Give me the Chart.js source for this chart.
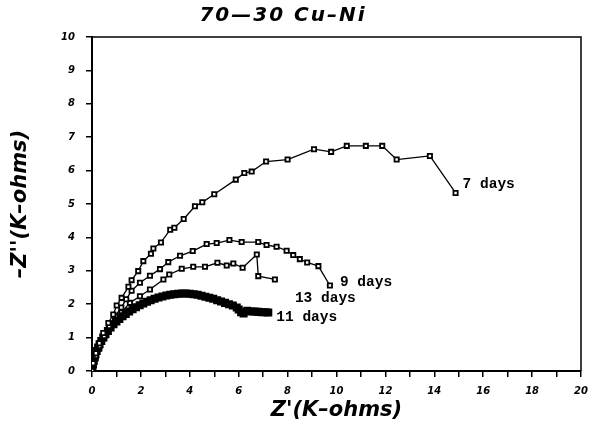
<!DOCTYPE html>
<html>
<head>
<meta charset="utf-8">
<script src="https://cdn.jsdelivr.net/npm/chart.js@4/dist/chart.umd.min.js"></script>
<style>
html,body{margin:0;padding:0;background:#fff;}
#wrap{width:589px;height:430px;}
</style>
</head>
<body>
<div id="wrap"><canvas id="c" width="589" height="430"></canvas></div>
<script>
const titleText = "70—30 Cu–Ni";
const xTitle = "Z'(K–ohms)";
const yTitle = "–Z''(K–ohms)";
const seriesNames = ["7 days", "9 days", "11 days", "13 days"];

const days7 = [[0,0],[0.05,0.23],[0.16,0.53],[0.3,0.83],[0.46,1.14],[0.67,1.44],[0.87,1.69],[1.01,1.96],[1.21,2.19],[1.49,2.52],[1.62,2.72],[1.89,2.99],[2.1,3.29],[2.41,3.51],[2.51,3.67],[2.82,3.85],[3.2,4.23],[3.37,4.29],[3.75,4.55],[4.21,4.93],[4.51,5.05],[5.0,5.29],[5.88,5.73],[6.23,5.93],[6.53,5.97],[7.12,6.27],[8.0,6.33],[9.08,6.64],[9.78,6.56],[10.42,6.74],[11.2,6.74],[11.87,6.74],[12.46,6.33],[13.82,6.44],[14.87,5.33]];

const days9 = [[0,0],[0.05,0.2],[0.15,0.45],[0.3,0.75],[0.5,1.05],[0.7,1.35],[0.95,1.65],[1.2,1.9],[1.4,2.15],[1.62,2.4],[1.96,2.64],[2.37,2.85],[2.78,3.05],[3.12,3.26],[3.6,3.45],[4.12,3.59],[4.69,3.8],[5.1,3.83],[5.62,3.92],[6.12,3.86],[6.8,3.86],[7.14,3.77],[7.55,3.72],[7.96,3.6],[8.23,3.47],[8.5,3.35],[8.8,3.25],[9.26,3.14],[9.73,2.56]];

const days11 = [[0,0],[0.02,0.1],[0.04,0.2],[0.07,0.3],[0.1,0.4],[0.14,0.5],[0.19,0.6],[0.25,0.7],[0.31,0.8],[0.38,0.9],[0.46,1.0],[0.55,1.1],[0.65,1.2],[0.76,1.3],[0.88,1.4],[1.0,1.48],[1.12,1.56],[1.25,1.64],[1.38,1.71],[1.52,1.78],[1.66,1.85],[1.8,1.91],[1.95,1.97],[2.1,2.02],[2.25,2.07],[2.4,2.12],[2.56,2.16],[2.72,2.2],[2.88,2.23],[3.04,2.26],[3.2,2.28],[3.36,2.3],[3.52,2.31],[3.68,2.32],[3.84,2.32],[4.0,2.31],[4.16,2.3],[4.32,2.28],[4.48,2.25],[4.64,2.22],[4.8,2.19],[4.96,2.16],[5.12,2.12],[5.28,2.08],[5.44,2.04],[5.6,2.0],[5.76,1.96],[5.92,1.9],[6.0,1.84],[6.1,1.76],[6.2,1.72],[6.35,1.8],[6.5,1.78],[6.65,1.78],[6.8,1.77],[6.95,1.76],[7.1,1.76],[7.21,1.75]];

const days13 = [[0,0],[0.05,0.18],[0.15,0.4],[0.3,0.68],[0.5,0.98],[0.7,1.25],[0.95,1.52],[1.2,1.75],[1.55,2.04],[1.96,2.24],[2.37,2.44],[2.92,2.74],[3.16,2.89],[3.67,3.06],[4.14,3.12],[4.62,3.12],[5.13,3.24],[5.51,3.16],[5.78,3.22],[6.16,3.09],[6.74,3.49],[6.8,2.84],[7.48,2.74]];

const xTicks = [0,2,4,6,8,10,12,14,16,18,20];
const yTicks = [0,1,2,3,4,5,6,7,8,9,10];

function pts(arr){ return arr.map(p => ({x:p[0], y:p[1]})); }

const openSq = {pointStyle:'rect', pointRadius:3, pointBorderWidth:1.8, pointBackgroundColor:'#fff', pointBorderColor:'#000', borderColor:'#000', borderWidth:1.3, showLine:true, fill:false, tension:0};

const datasets = [
  Object.assign({label:seriesNames[0], data:pts(days7)}, openSq),
  Object.assign({label:seriesNames[1], data:pts(days9)}, openSq),
  Object.assign({label:seriesNames[2], data:pts(days11)}, openSq, {pointRadius:4.4, pointBackgroundColor:'#000', borderWidth:4}),
  Object.assign({label:seriesNames[3], data:pts(days13)}, openSq)
];

const labelOffsets = [[7,-9],[10,-3],[8,5],[20,19]];

const seriesLabelPlugin = {
  id:'seriesLabels',
  afterDatasetsDraw(chart){
    const ctx = chart.ctx;
    const xs = chart.scales.x, ys = chart.scales.y;
    ctx.save();
    ctx.fillStyle = '#000';
    ctx.font = 'bold 14.5px "Liberation Mono", monospace';
    ctx.textBaseline = 'middle';
    ctx.textAlign = 'left';
    chart.data.datasets.forEach((ds, i) => {
      const last = ds.data[ds.data.length-1];
      const px = xs.getPixelForValue(last.x) + labelOffsets[i][0];
      const py = ys.getPixelForValue(last.y) + labelOffsets[i][1];
      ctx.fillText(ds.label, px, py);
    });
    ctx.restore();
  }
};

const framePlugin = {
  id:'frame',
  afterDraw(chart){
    const a = chart.chartArea, ctx = chart.ctx;
    ctx.save();
    ctx.strokeStyle = '#000';
    ctx.lineWidth = 1.5;
    ctx.beginPath();
    ctx.moveTo(a.left, a.top);
    ctx.lineTo(a.right, a.top);
    ctx.lineTo(a.right, a.bottom);
    ctx.stroke();
    ctx.fillStyle = '#000';
    ctx.font = 'italic bold 20px "DejaVu Sans", sans-serif';
    ctx.letterSpacing = '2px';
    ctx.textAlign = 'center';
    ctx.textBaseline = 'middle';
    ctx.fillText(titleText, 283, 16);
    ctx.restore();
  }
};

const tickFont = {family:'"DejaVu Sans", sans-serif', size:10, weight:'bold', style:'italic'};

new Chart(document.getElementById('c'), {
  type:'scatter',
  data:{datasets},
  plugins:[seriesLabelPlugin, framePlugin],
  options:{
    responsive:false,
    animation:false,
    layout:{padding:{left:0, right:8, top:37, bottom:0}},
    plugins:{
      legend:{display:false},
      tooltip:{enabled:false},
      title:{display:false}
    },
    scales:{
      x:{
        type:'linear', min:0, max:20,
        afterFit(s){ s.height = 59; s.paddingLeft = 0; s.paddingRight = 0; },
        border:{display:true, color:'#000', width:2},
        grid:{drawOnChartArea:false, drawTicks:true, tickLength:6, color:'#000', lineWidth:1.5},
        ticks:{stepSize:1, autoSkip:false, maxRotation:0, color:'#000', font:tickFont, padding:8,
          callback:(v) => xTicks.includes(v) ? String(v) : ''},
        title:{display:true, text:xTitle, color:'#000',
          font:{family:'"DejaVu Sans", sans-serif', size:21, weight:'bold', style:'italic'},
          padding:{top:0, bottom:7}}
      },
      y:{
        type:'linear', min:0, max:10,
        afterFit(s){ s.width = 92; s.paddingTop = 0; s.paddingBottom = 0; },
        border:{display:true, color:'#000', width:2},
        grid:{drawOnChartArea:false, drawTicks:true, tickLength:6, color:'#000', lineWidth:1.5},
        ticks:{stepSize:1, autoSkip:false, color:'#000', font:tickFont, padding:11,
          callback:(v) => yTicks.includes(v) ? String(v) : ''},
        title:{display:true, text:yTitle, color:'#000',
          font:{family:'"DejaVu Sans", sans-serif', size:21, weight:'bold', style:'italic'},
          padding:{top:8, bottom:0}}
      }
    }
  }
});
</script>
</body>
</html>
